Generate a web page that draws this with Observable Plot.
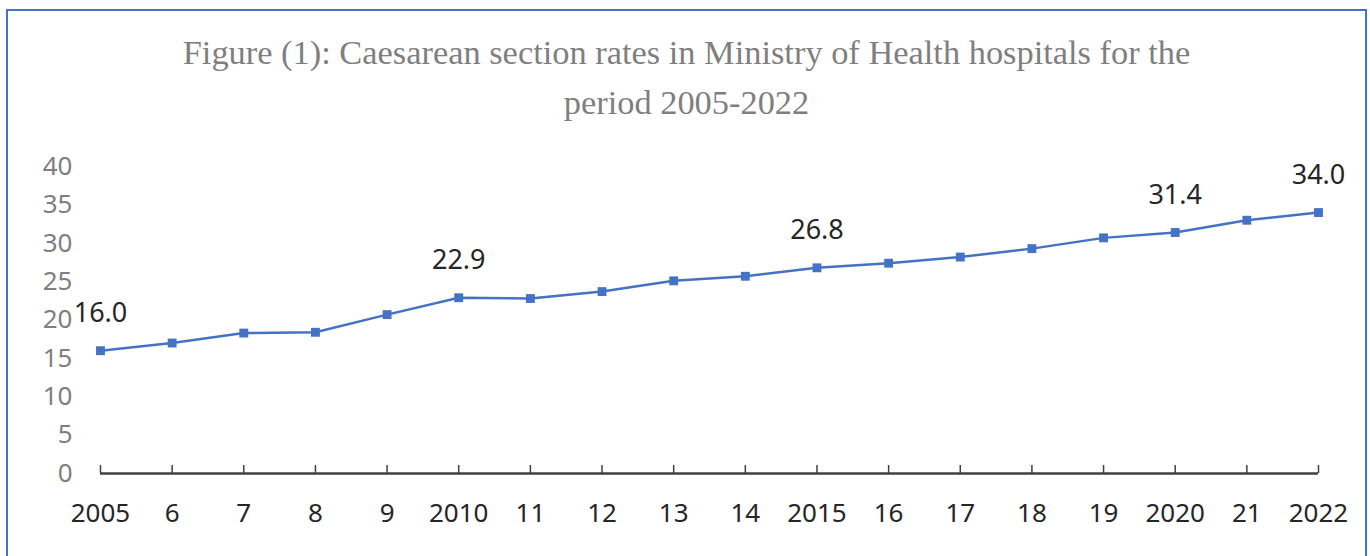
<!DOCTYPE html>
<html><head><meta charset="utf-8">
<script src="https://cdn.jsdelivr.net/npm/d3@7"></script>
<script src="https://cdn.jsdelivr.net/npm/@observablehq/plot@0.6"></script>
<style>
html,body{margin:0;padding:0;background:#fff;overflow:hidden;}
#wrap{position:relative;width:1370px;height:556px;overflow:hidden;}
#frame{position:absolute;left:6px;top:9px;width:1361px;height:600px;border:2px solid #4472C4;box-sizing:border-box;pointer-events:none;}
#title{position:absolute;left:6px;width:1361px;top:27px;text-align:center;font-family:"Liberation Serif","Times New Roman",serif;font-size:34.4px;line-height:50px;color:#7f7f7f;}
#chart{position:absolute;left:0;top:140px;}
</style></head>
<body><div id="wrap"><div id="frame"></div><div id="title">Figure (1): Caesarean section rates in Ministry of Health hospitals for the<br>period 2005-2022</div><div id="chart"></div></div>
<script>
const years = [2005,2006,2007,2008,2009,2010,2011,2012,2013,2014,2015,2016,2017,2018,2019,2020,2021,2022];
const xLabels = ["2005","6","7","8","9","2010","11","12","13","14","2015","16","17","18","19","2020","21","2022"];
const rates = [16.0,17.0,18.3,18.4,20.7,22.9,22.8,23.7,25.1,25.7,26.8,27.4,28.2,29.3,30.7,31.4,33.0,34.0];
const labeledYears = [2005,2010,2015,2020,2022];
const yTicks = [0,5,10,15,20,25,30,35,40];

const data = years.map((y,i)=>({year:y, rate:rates[i]}));
const lab = data.filter(d=>labeledYears.includes(d.year));
const font = '"Noto Sans","Open Sans",sans-serif';

const chart = Plot.plot({
  width:1370, height:416,
  marginLeft:100, marginRight:52, marginTop:26, marginBottom:83,
  x:{domain:[years[0], years[years.length-1]], label:null},
  y:{domain:[0,40], label:null},
  style:{fontFamily:font, background:"transparent", overflow:"visible"},
  marks:[
    Plot.axisY({ticks:yTicks, tickSize:0, tickPadding:28, fontSize:26, color:"#7f7f7f", label:null}),
    Plot.ruleY([0],{x1:years[0], x2:years[years.length-1], stroke:"#404040", strokeWidth:2.5}),
    Plot.axisX({ticks:years, tickSize:8, dy:-8, tickFormat:()=>"", color:"#404040", strokeWidth:1.5, label:null}),
    Plot.axisX({ticks:years, tickSize:0, tickPadding:30, tickFormat:d=>xLabels[years.indexOf(d)], fontSize:26, color:"#262626", label:null}),
    Plot.line(data,{x:"year", y:"rate", stroke:"#4472C4", strokeWidth:2.5}),
    Plot.dot(data,{x:"year", y:"rate", symbol:"square", r:5, fill:"#4472C4"}),
    Plot.text(lab,{x:"year", y:"rate", text:d=>d.rate.toFixed(1), dy:-37, fontSize:27, fill:"#262626"})
  ]
});
document.getElementById("chart").appendChild(chart);
</script>
</body></html>
